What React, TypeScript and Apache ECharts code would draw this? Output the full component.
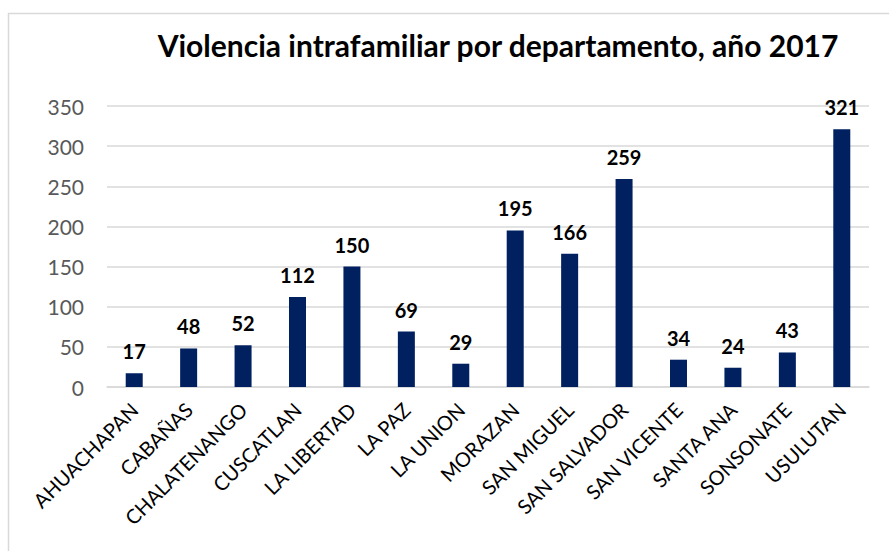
import React, { useEffect, useRef } from "react";
import * as echarts from "echarts";

const categories = [
  "AHUACHAPAN", "CABAÑAS", "CHALATENANGO", "CUSCATLAN", "LA LIBERTAD", "LA PAZ", "LA UNION",
  "MORAZAN", "SAN MIGUEL", "SAN SALVADOR", "SAN VICENTE", "SANTA ANA", "SONSONATE", "USULUTAN",
];
const values = [17, 48, 52, 112, 150, 69, 29, 195, 166, 259, 34, 24, 43, 321];
const titleText = "Violencia intrafamiliar por departamento, año 2017";

export default function App() {
  const ref = useRef<HTMLDivElement>(null);
  useEffect(() => {
    const chart = echarts.init(ref.current!, null, { renderer: "svg" });
    chart.setOption({
      animation: false,
      backgroundColor: "#ffffff",
      title: {
        text: titleText,
        left: 493,
        textAlign: "center",
        top: 25,
        textStyle: { fontFamily: "Lato", fontWeight: "bold", fontSize: 30, color: "#000000" },
      },
      graphic: [
        {
          type: "polyline",
          shape: { points: [[8.5, 560], [8.5, 13.5], [900, 13.5]] },
          style: { stroke: "#d9d9d9", lineWidth: 1.5, fill: null },
        },
      ],
      grid: { left: 107, right: 20, top: 106, bottom: 164, containLabel: false },
      xAxis: {
        type: "category",
        data: categories,
        axisLine: { lineStyle: { color: "#d9d9d9", width: 1.5 } },
        axisTick: { show: false },
        axisLabel: {
          rotate: 45,
          interval: 0,
          margin: 19,
          fontFamily: "Lato",
          fontSize: 20,
          color: "#000000",
        },
      },
      yAxis: {
        type: "value",
        min: 0,
        max: 350,
        interval: 50,
        axisLine: { show: false },
        axisTick: { show: false },
        splitLine: { lineStyle: { color: "#d9d9d9", width: 1.5 } },
        axisLabel: { margin: 23, fontFamily: "Lato", fontSize: 21, color: "#595959" },
      },
      series: [
        {
          type: "bar",
          data: values,
          barWidth: 17,
          itemStyle: { color: "#002060" },
          label: {
            show: true,
            position: "top",
            distance: 12,
            fontFamily: "Lato",
            fontWeight: "bold",
            fontSize: 20,
            color: "#000000",
          },
        },
      ],
    });
    return () => chart.dispose();
  }, []);
  return (
    <div
      ref={ref}
      style={{ position: "absolute", left: 0, top: 0, width: 889, height: 551 }}
    />
  );
}
